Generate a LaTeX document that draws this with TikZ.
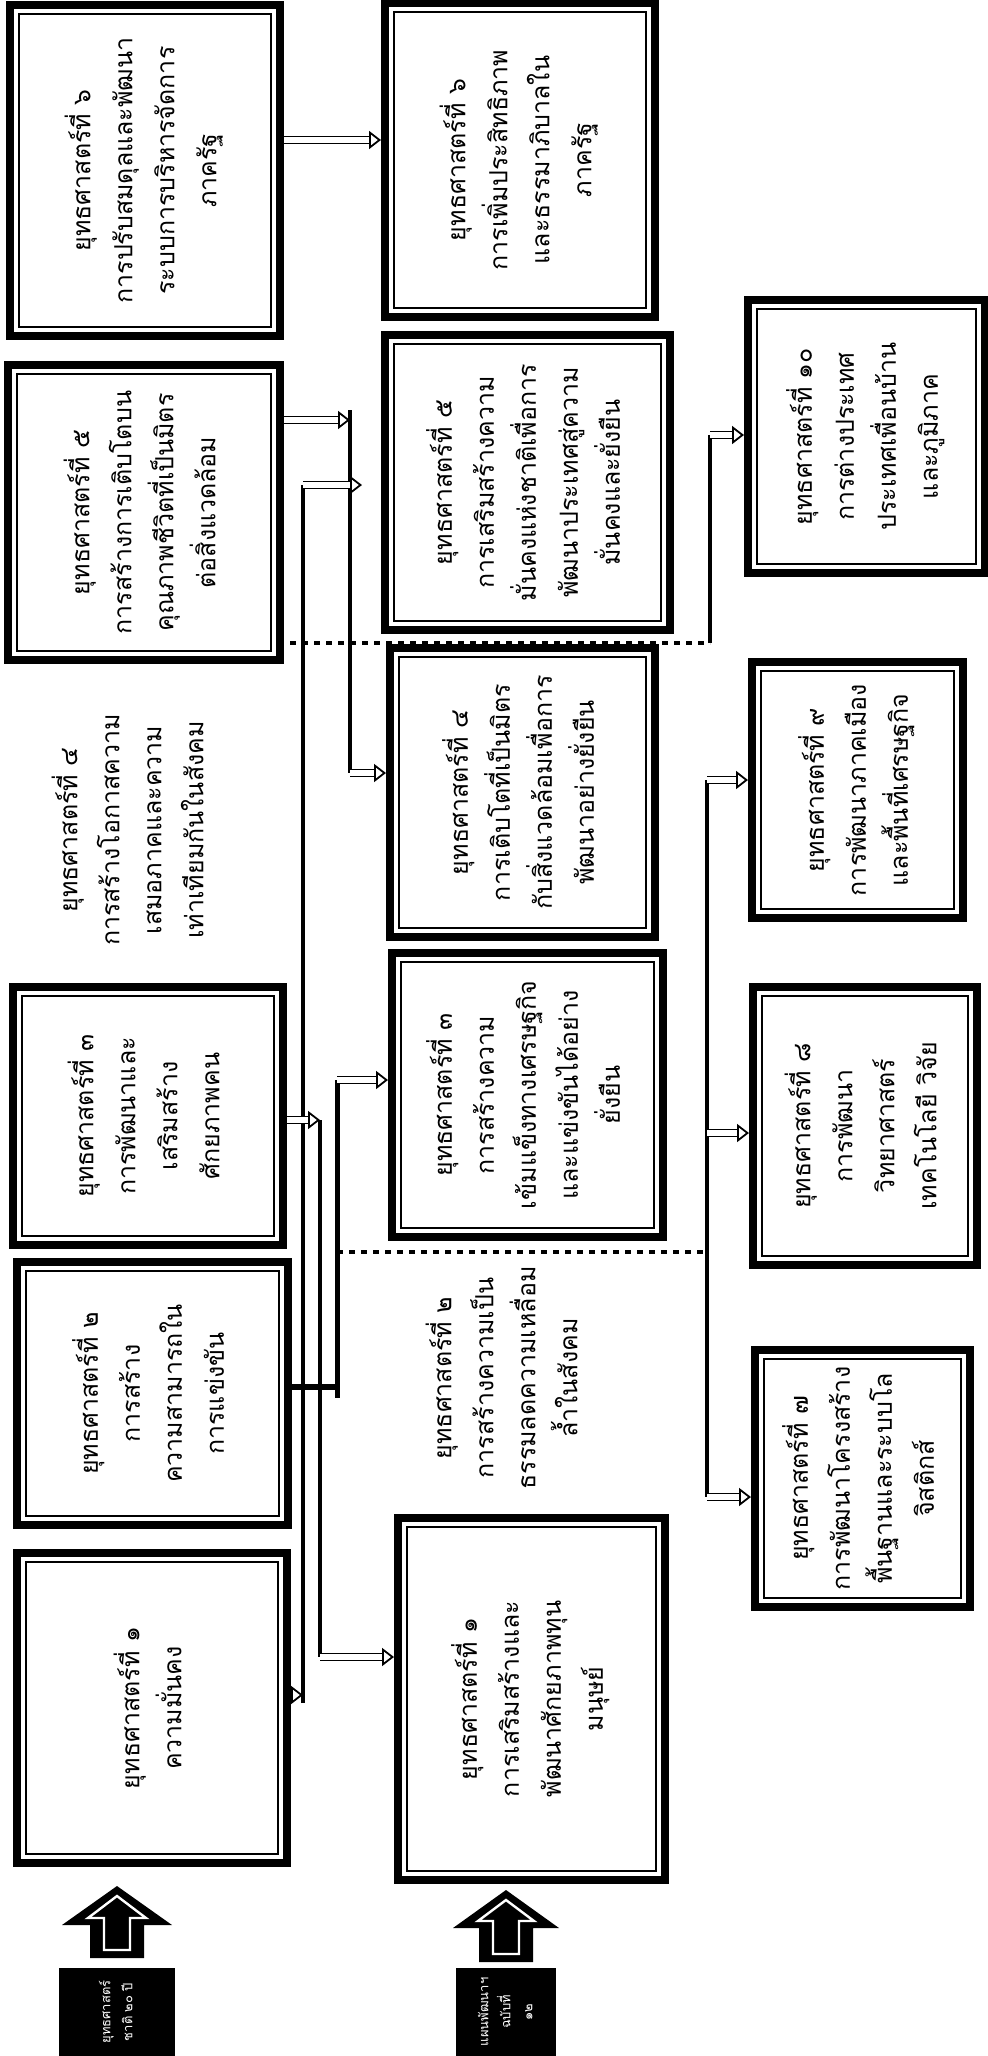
\documentclass[tikz,border=0pt]{standalone}
\usepackage{fontspec}
\newfontfamily\thaifont[Script=Thai]{Loma}
\usetikzlibrary{arrows.meta}
\newcommand{\mytxt}[1]{\rotatebox{90}{\begin{tabular}{@{}c@{}}#1\end{tabular}}}
\begin{document}
\begin{tikzpicture}[x=0.5pt,y=-0.5pt,
  font=\thaifont\fontsize{12.5}{21}\selectfont,
  sz/.style 2 args={minimum width=#1*0.5pt, minimum height=#2*0.5pt},
  bx/.style={draw, line width=4pt, fill=white, inner sep=0pt, align=center,
    path picture={\draw[line width=0.9pt] ([shift={(4.6pt,4.6pt)}]path picture bounding box.south west) rectangle ([shift={(-4.6pt,-4.6pt)}]path picture bounding box.north east);}},
  plain/.style={inner sep=0pt},
  ln/.style={line width=2pt},
  dln/.style={line width=2.2pt, dash pattern=on 3pt off 3pt},
  harrow/.style={double=white, double distance=2.6pt, line width=0.9pt,
    -{Triangle[open, length=6pt, width=9pt, line width=0.9pt]}},
  lab/.style={fill=black, text=white, inner sep=0pt,
    font=\thaifont\fontsize{6.5}{11}\selectfont},
  upfill/.style={fill=black},
  upline/.style={draw=white, line width=1.2pt}
]
\useasboundingbox (0,0) rectangle (987,2056);

% ---- left column (national strategy)
\node[bx, sz={270}{331}] (L6) at (145,170.5)
  {\mytxt{ยุทธศาสตร์ที่ ๖\\การปรับสมดุลและพัฒนา\\ระบบการบริหารจัดการ\\ภาครัฐ}};
\node[bx, sz={272}{295}] (L5) at (144,512.5)
  {\mytxt{ยุทธศาสตร์ที่ ๕\\การสร้างการเติบโตบน\\คุณภาพชีวิตที่เป็นมิตร\\ต่อสิ่งแวดล้อม}};
\node[plain] (L4) at (132,830)
  {\mytxt{ยุทธศาสตร์ที่ ๔\\การสร้างโอกาสความ\\เสมอภาคและความ\\เท่าเทียมกันในสังคม}};
\node[bx, sz={270}{258}] (L3) at (148,1116)
  {\mytxt{ยุทธศาสตร์ที่ ๓\\การพัฒนาและ\\เสริมสร้าง\\ศักยภาพคน}};
\node[bx, sz={271}{263}] (L2) at (152.5,1393.5)
  {\mytxt{ยุทธศาสตร์ที่ ๒\\การสร้าง\\ความสามารถใน\\การแข่งขัน}};
\node[bx, sz={270}{310}] (L1) at (152,1708)
  {\mytxt{ยุทธศาสตร์ที่ ๑\\ความมั่นคง}};

% ---- middle column (plan strategy)
\node[bx, sz={270}{314}] (M6) at (520,160)
  {\mytxt{ยุทธศาสตร์ที่ ๖\\การเพิ่มประสิทธิภาพ\\และธรรมาภิบาลใน\\ภาครัฐ}};
\node[bx, sz={285}{295}] (M5) at (527.5,482.5)
  {\mytxt{ยุทธศาสตร์ที่ ๕\\การเสริมสร้างความ\\มั่นคงแห่งชาติเพื่อการ\\พัฒนาประเทศสู่ความ\\มั่นคงและยั่งยืน}};
\node[bx, sz={265}{289}] (M4) at (522.5,792.5)
  {\mytxt{ยุทธศาสตร์ที่ ๔\\การเติบโตที่เป็นมิตร\\กับสิ่งแวดล้อมเพื่อการ\\พัฒนาอย่างยั่งยืน}};
\node[bx, sz={271}{284}] (M3) at (527.5,1095)
  {\mytxt{ยุทธศาสตร์ที่ ๓\\การสร้างความ\\เข้มแข็งทางเศรษฐกิจ\\และแข่งขันได้อย่าง\\ยั่งยืน}};
\node[plain] (M2) at (506,1378)
  {\mytxt{ยุทธศาสตร์ที่ ๒\\การสร้างความเป็น\\ธรรมลดความเหลื่อม\\ล้ำในสังคม}};
\node[bx, sz={267}{362}] (M1) at (531.5,1699)
  {\mytxt{ยุทธศาสตร์ที่ ๑\\การเสริมสร้างและ\\พัฒนาศักยภาพทุน\\มนุษย์}};

% ---- right column
\node[bx, sz={237}{273}] (R10) at (866.5,436.5)
  {\mytxt{ยุทธศาสตร์ที่ ๑๐\\การต่างประเทศ\\ประเทศเพื่อนบ้าน\\และภูมิภาค}};
\node[bx, sz={211}{256}] (R9) at (857.5,790)
  {\mytxt{ยุทธศาสตร์ที่ ๙\\การพัฒนาภาคเมือง\\และพื้นที่เศรษฐกิจ}};
\node[bx, sz={224}{278}] (R8) at (865,1126)
  {\mytxt{ยุทธศาสตร์ที่ ๘\\การพัฒนา\\วิทยาศาสตร์\\เทคโนโลยี วิจัย}};
\node[bx, sz={215}{257}] (R7) at (862.5,1478.5)
  {\mytxt{ยุทธศาสตร์ที่ ๗\\การพัฒนาโครงสร้าง\\พื้นฐานและระบบโล\\จิสติกส์}};

% ---- bottom labels
\node[lab, sz={116}{88}] (N1) at (117,2012)
  {\mytxt{ยุทธศาสตร์\\ชาติ ๒๐ ปี}};
\node[lab, sz={100}{88}] (N2) at (506,2012)
  {\mytxt{แผนพัฒนาฯ\\ฉบับที่\\๑๒}};

% up arrows (left and right)
\fill[upfill] (90,1958) -- (90,1925) -- (62,1925) -- (117,1886) -- (172,1925) -- (144,1925) -- (144,1958) -- cycle;
\draw[upline] (104,1950) -- (104,1918) -- (88,1918) -- (117,1896) -- (146,1918) -- (130,1918) -- (130,1950) -- cycle;
\fill[upfill] (479,1962) -- (479,1928) -- (453,1928) -- (506,1890) -- (559,1928) -- (533,1928) -- (533,1962) -- cycle;
\draw[upline] (493,1954) -- (493,1921) -- (478,1921) -- (506,1900) -- (534,1921) -- (519,1921) -- (519,1954) -- cycle;

% ---- connectors
\coordinate (a6) at (0,140);
\draw[harrow] (L6.east |- a6) -- (M6.west |- a6);

% L5 -> M4
\coordinate (A0) at (350,410);
\coordinate (A1) at (350,420);
\coordinate (A2) at (350,773);
\draw[harrow] (L5.east |- A1) -- (A1);
\draw[ln] (A0) -- (A2);
\draw[harrow] (A2) -- (M4.west |- A2);

% L1 -> M5, R10
\coordinate (Bl) at (303,1695);
\coordinate (Bb) at (303,1703);
\coordinate (Bt) at (303,485);
\coordinate (B5) at (362,485);
\coordinate (Bd) at (290,643);
\coordinate (C0) at (710,643);
\coordinate (C1) at (710,435);
\draw[harrow] (L1.east |- Bl) -- (Bl);
\draw[ln] (Bb) -- (Bt);
\draw[harrow] (Bt) -- (B5);
\draw[dln] (Bd) -- (C0);
\draw[ln] (C0) -- (C1);
\draw[harrow] (C1) -- (R10.west |- C1);

% L3 -> M1
\coordinate (D0) at (320,1120);
\coordinate (D1) at (320,1657);
\draw[harrow] (L3.east |- D0) -- (D0);
\draw[ln] (D0) -- (D1);
\draw[harrow] (D1) -- (M1.west |- D1);

% L2 -> M3, R7, R8, R9
\coordinate (E0) at (337,1080);
\coordinate (Ej) at (337,1387);
\coordinate (E1) at (337,1398);
\coordinate (Ed) at (337,1252);
\coordinate (Fd) at (707,1252);
\coordinate (F0) at (707,780);
\coordinate (F8) at (707,1133);
\coordinate (F1) at (707,1497);
\draw[line width=3pt] (L2.east |- Ej) -- (Ej);
\draw[line width=2.5pt] (E0) -- (E1);
\draw[harrow] (E0) -- (M3.west |- E0);
\draw[dln] (Ed) -- (Fd);
\draw[ln] (F0) -- (F1);
\draw[harrow] (F0) -- (R9.west |- F0);
\draw[harrow] (F8) -- (R8.west |- F8);
\draw[harrow] (F1) -- (R7.west |- F1);
\end{tikzpicture}
\end{document}
